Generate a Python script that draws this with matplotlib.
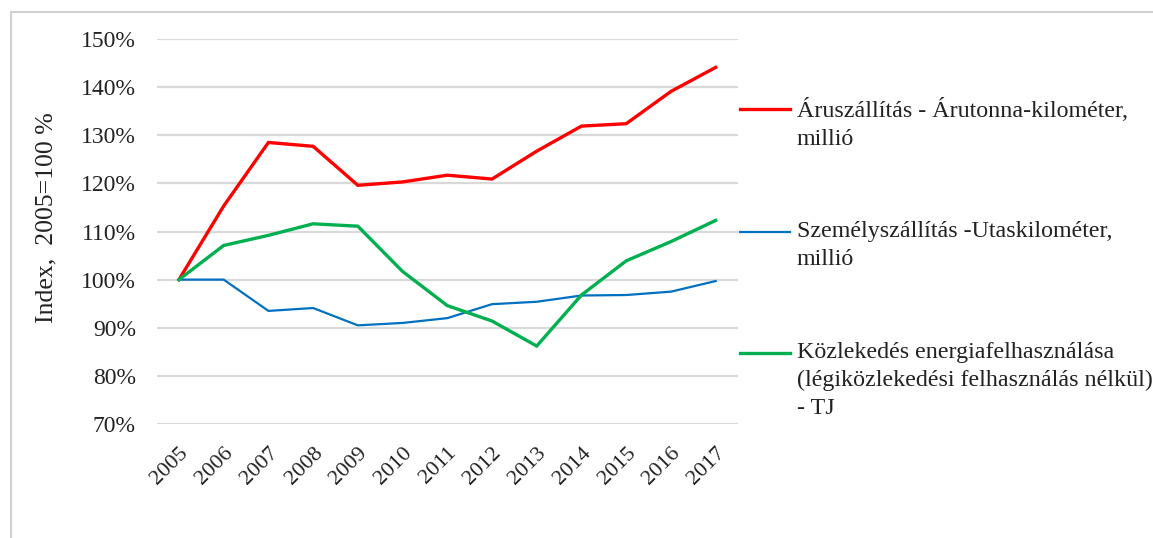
import numpy as np
import matplotlib
matplotlib.use("Agg")
import matplotlib.pyplot as plt
from matplotlib.lines import Line2D
from matplotlib.ticker import FuncFormatter

plt.rcParams["font.family"] = ["Liberation Serif", "DejaVu Serif"]

# data (index, 2005 = 100%)
years = [str(y) for y in range(2005, 2018)]
freight = [100, 115.3, 128.5, 127.7, 119.6, 120.3, 121.7, 120.9, 126.7, 131.9, 132.4, 139.1, 144.1]
passenger = [100, 100, 93.5, 94.1, 90.5, 91.0, 92.0, 94.9, 95.4, 96.7, 96.8, 97.5, 99.7]
energy = [100, 107.1, 109.2, 111.6, 111.1, 101.7, 94.6, 91.4, 86.2, 96.8, 103.9, 107.9, 112.3]

labels = ["Áruszállítás - Árutonna-kilométer,\nmillió",
          "Személyszállítás -Utaskilométer,\nmillió",
          "Közlekedés energiafelhasználása\n(légiközlekedési felhasználás nélkül)\n- TJ"]
colors = ["#FF0000", "#0070C0", "#00B050"]
widths = [2.4, 1.6, 2.4]

W, H = 1153, 538
fig = plt.figure(figsize=(W / 100, H / 100), dpi=100)
ax = fig.add_axes([156.6 / W, 1 - 424 / H, (738 - 156.6) / W, (424 - 39) / H])

x = np.arange(len(years))
for vals, c, lw in zip([freight, passenger, energy], colors, widths):
    ax.plot(x, vals, color=c, lw=lw, solid_joinstyle="miter")

ax.set_xlim(-0.5, len(years) - 0.5)
ax.set_ylim(70, 150)
ax.set_yticks(np.arange(70, 151, 10))
ax.yaxis.set_major_formatter(FuncFormatter(lambda v, p: f"{v:.0f}%"))
ax.set_xticks(x)
ax.set_xticklabels(years, rotation=45, ha="right", rotation_mode="anchor")
ax.tick_params(axis="y", length=0, labelsize=17, colors="#222222", pad=15)
ax.tick_params(axis="x", length=0, labelsize=16, colors="#222222", pad=14)
ax.grid(axis="y", color="#d9d9d9", lw=1.6)
ax.set_axisbelow(True)
for s in ax.spines.values():
    s.set_visible(False)

fig.text(46 / W, 1 - 218 / H, "Index,  2005=100 %", rotation=90, ha="center", va="center",
         fontsize=18.5, color="#222222")

# legend drawn by hand, handle aligned with first text line
leg_y = [109, 232, 353]
for c, lw, lab, yy in zip(colors, widths, labels, leg_y):
    fig.add_artist(Line2D([740 / W, 790 / W], [1 - yy / H, 1 - yy / H], color=c, lw=lw))
    fig.text(797 / W, 1 - (yy - 11) / H, lab, fontsize=17.3, va="top", ha="left",
             color="#222222", linespacing=1.42)

# chart frame: only the top and left edges are visible (cropped screenshot)
fig.add_artist(Line2D([11 / W, 1], [1 - 12 / H, 1 - 12 / H], color="#d0d0d0", lw=1.5))
fig.add_artist(Line2D([11 / W, 11 / W], [1 - 12 / H, 0], color="#d0d0d0", lw=1.5))

fig.savefig("out.png", dpi=100)
